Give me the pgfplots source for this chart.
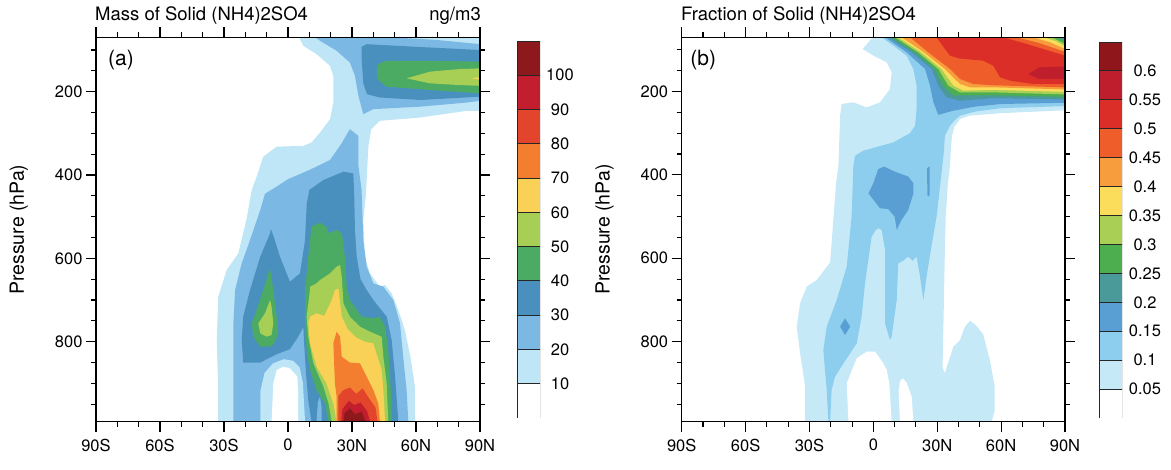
\documentclass[border=0pt]{standalone}
\usepackage{fontspec}
\setmainfont{TeX Gyre Heros}
\usepackage{pgfplots}
\pgfplotsset{compat=1.18}
% panel (a) colours
\definecolor{a1}{RGB}{190,230,247}
\definecolor{a2}{RGB}{124,184,228}
\definecolor{a3}{RGB}{74,144,191}
\definecolor{a4}{RGB}{75,171,99}
\definecolor{a5}{RGB}{167,207,85}
\definecolor{a6}{RGB}{249,209,87}
\definecolor{a7}{RGB}{244,126,48}
\definecolor{a8}{RGB}{227,69,44}
\definecolor{a9}{RGB}{195,30,45}
\definecolor{a10}{RGB}{142,25,28}
% panel (b) colours
\definecolor{b1}{RGB}{198,233,248}
\definecolor{b2}{RGB}{141,205,238}
\definecolor{b3}{RGB}{90,159,211}
\definecolor{b4}{RGB}{74,154,154}
\definecolor{b5}{RGB}{76,174,79}
\definecolor{b6}{RGB}{169,208,84}
\definecolor{b7}{RGB}{251,221,91}
\definecolor{b8}{RGB}{248,157,62}
\definecolor{b9}{RGB}{238,93,42}
\definecolor{b10}{RGB}{219,46,40}
\definecolor{b11}{RGB}{191,30,44}
\definecolor{b12}{RGB}{143,23,28}
\pgfplotsset{
  cax/.style={
    scale only axis, anchor=south west,
    xmin=-90, xmax=90, ymin=70, ymax=992, y dir=reverse,
    xtick={-90,-60,-30,0,30,60,90},
    xticklabels={90S,60S,30S,0,30N,60N,90N},
    minor xtick={-80,-70,-50,-40,-20,-10,10,20,40,50,70,80},
    ytick={200,400,600,800}, yticklabels={200,400,600,800},
    minor ytick={100,150,250,300,350,450,500,550,650,700,750,850,900,950},
    tick align=outside, major tick length=10pt, minor tick length=5pt,
    every tick/.style={black, line width=1.1pt},
    axis line style={line width=1.4pt},
    ticklabel style={font=\fontsize{16.5}{19}\selectfont},
    xticklabel style={yshift=-4pt},
    ylabel={Pressure (hPa)}, ylabel shift=20pt,
    ylabel style={font=\fontsize{19.5}{22}\selectfont},
    axis on top,
  },
  reg/.style={draw=none, fill=#1},
  cbar/.style={
    scale only axis, anchor=south west, width=23pt,
    xmin=0, xmax=1, ymin=0,
    ybar stacked, bar width=1, bar shift=0pt,
    axis line style={draw=none}, xtick=\empty,
    major tick length=0pt, yticklabel pos=right,
    ticklabel style={font=\fontsize{16.5}{19}\selectfont},
    every axis plot/.append style={draw=black!85, line width=0.9pt},
  },
}
\begin{document}
\begin{tikzpicture}
\path[use as bounding box] (0pt,0pt) rectangle (1171pt,470pt);
% ---------------- panel (a)
\begin{axis}[cax, at={(96pt,48.3pt)}, width=384pt, height=384.2pt]
\addplot[reg=a1] coordinates {(5.6,70) (90,70) (90,246) (83.75,246) (62,262) (43,270) (39,290) (37.7,330) (37.2,378) (36.5,450) (35.3,508) (36,596) (38.4,636) (43,668) (45.5,664) (48.6,684) (51.7,724) (54.8,772) (57.5,840) (59.5,908) (59.5,992) (-32.7,992) (-32.7,916) (-33.4,796) (-32.7,692) (-28.75,628) (-23.3,588) (-19.4,505) (-17,436) (-14.7,404) (-11.6,356) (-5.3,332) (7.2,330) (11,322) (15,298) (19.7,266) (21.25,226) (21.25,162) (19.7,138) (13.4,110) (7.2,90) (5.6,74)};
\addplot[reg=a2] coordinates {(13,70) (50,70) (70,76) (90,86) (90,222) (84,226) (62,236) (40,242) (35.3,254) (33,210) (31.4,162) (29,130) (22.8,102) (15,78)};
\addplot[reg=a2] coordinates {(29,290) (33,306) (33,378) (34.5,436) (35.3,556) (36.9,620) (40,660) (44.7,668) (49.4,700) (52.5,756) (54,836) (55.6,916) (56.4,992) (-25.6,992) (-25.6,836) (-25.6,756) (-24.8,676) (-21.7,612) (-17.8,556) (-13,484) (-10.8,445) (-6,430) (0,410) (10,388) (19.7,364) (25,325)};
\addplot[reg=a1] coordinates {(-13,992) (-13,920) (-11,875) (-7,852) (-2,842) (2.5,846) (5.5,862) (7,900) (8,992)};
\addplot[reg=white] coordinates {(-7.7,992) (-6.9,900) (-5.3,868) (-2.2,860) (0.9,864) (4.4,884) (4.8,932) (4.8,992)};
\addplot[reg=a3] coordinates {(34.5,92) (37,86) (58.75,92) (90,100) (90,212) (62,220) (43,214) (37,206) (35.3,180) (34.5,120)};
\addplot[reg=a3] coordinates {(26,392) (30.6,396) (31,440) (31.4,532) (32.2,596) (34,650) (36.9,676) (40,700) (46.25,740) (48.6,796) (50.2,884) (51.7,992) (11,992) (9.5,940) (8.5,880) (7.5,800) (7.2,765) (4.8,788) (0.9,818) (-5.3,830) (-13,850) (-21,850) (-21.7,796) (-21,740) (-17.8,676) (-13,596) (-8.4,540) (-8,530) (-6.9,545) (-3.75,596) (0.9,656) (5.6,636) (8,556) (8.75,470) (10,436) (16.6,412)};
\addplot[reg=a2] coordinates {(13.4,992) (14,945) (15,932) (15.8,960) (15.8,992)};
\addplot[reg=a4] coordinates {(42.3,134) (46,126) (66.5,126) (90,128) (90,204) (66.5,196) (46.25,188) (42.3,172) (41.6,150)};
\addplot[reg=a4] coordinates {(11,524) (15,514) (18,524) (19,540) (22.8,532) (25.2,540) (26.7,596) (27.5,668) (29,700) (34.5,740) (40,744) (43,740) (45.5,764) (47,820) (47.8,884) (48.6,956) (48.6,992) (19,992) (17.3,948) (13.4,916) (10.3,868) (8.75,820) (8,756) (8,676) (9.5,596)};
\addplot[reg=a4] coordinates {(-8.4,624) (-6.9,676) (-5.3,740) (-4.5,780) (-6.9,808) (-9.2,812) (-13,812) (-16.2,788) (-17,756) (-14.7,724) (-11.6,676)};
\addplot[reg=a5] coordinates {(55.6,168) (66.5,152) (80,146) (90,144) (90,186) (80,184) (66.5,180)};
\addplot[reg=a5] coordinates {(10.3,668) (13.4,660) (15,652) (19.7,636) (22.8,620) (24.4,616) (25.2,644) (26,708) (29,740) (33.75,764) (38,775) (43.9,788) (44.7,836) (46.25,900) (47,992) (20.5,992) (19,948) (16.6,908) (11.9,852) (9.5,788) (8.75,740) (10.3,676)};
\addplot[reg=a5] coordinates {(-8.4,700) (-7.7,716) (-6.9,756) (-7.7,784) (-10,788) (-13,780) (-13.9,756) (-10.8,732)};
\addplot[reg=a6] coordinates {(86,168) (90,165) (90,171)};
\addplot[reg=a6] coordinates {(10.3,740) (13.4,732) (17,738) (20.5,700) (22,676) (23.6,672) (25.2,740) (28,770) (32,790) (36,800) (40,804) (43.9,868) (44.7,916) (45.5,992) (22.8,992) (21.25,948) (18,900) (13.4,860) (10.3,804) (9.5,756)};
\addplot[reg=a7] coordinates {(22.8,776) (24.4,788) (25.2,836) (29,850) (33.75,852) (36.9,884) (40,916) (42.3,948) (43.1,992) (22.8,992) (22.8,932) (22,900) (21.25,804)};
\addplot[reg=a8] coordinates {(23.6,992) (23.6,930) (26,916) (29,910) (32,925) (35,912) (37.5,932) (41,958) (42,992)};
\addplot[reg=a9] coordinates {(25,992) (25.5,962) (28.5,942) (31,952) (34,946) (37,966) (38.5,992)};
\addplot[reg=a10] coordinates {(26,992) (26.5,972) (29,960) (31.5,974) (34.5,968) (36.5,992)};
\node[anchor=west, inner sep=0pt, font=\fontsize{21}{24}\selectfont] at (axis cs:-84.4,124) {(a)};
\end{axis}
\node[anchor=base west, inner sep=0pt, font=\fontsize{18.5}{21}\selectfont] at (95pt,449pt) {Mass of Solid (NH4)2SO4};
\node[anchor=base east, inner sep=0pt, font=\fontsize{18.5}{21}\selectfont] at (481pt,449pt) {ng/m3};
% colorbar (a)
\begin{axis}[cbar, at={(517pt,52pt)}, height=377pt, ymax=110,
  ytick={10,20,30,40,50,60,70,80,90,100},
  yticklabels={10,20,30,40,50,60,70,80,90,100},
  yticklabel style={anchor=center, xshift=20pt}]
\addplot[fill=white] coordinates {(0.5,10)};
\addplot[fill=a1] coordinates {(0.5,10)};
\addplot[fill=a2] coordinates {(0.5,10)};
\addplot[fill=a3] coordinates {(0.5,10)};
\addplot[fill=a4] coordinates {(0.5,10)};
\addplot[fill=a5] coordinates {(0.5,10)};
\addplot[fill=a6] coordinates {(0.5,10)};
\addplot[fill=a7] coordinates {(0.5,10)};
\addplot[fill=a8] coordinates {(0.5,10)};
\addplot[fill=a9] coordinates {(0.5,10)};
\addplot[fill=a10] coordinates {(0.5,10)};
\end{axis}
% ---------------- panel (b)
\begin{axis}[cax, at={(681.7pt,48.3pt)}, width=383.3pt, height=384.4pt]
\addplot[reg=b1] coordinates {(1,70) (90,70) (90,245) (60,252) (45,258) (40.7,266) (38,285) (37,305) (36.5,330) (36,378) (35,420) (34,500) (33.6,580) (33,740) (32.5,860) (33.5,876) (37.6,812) (40.7,796) (43,764) (45.4,750) (48,760) (51.6,782) (54.8,846) (57,908) (57,964) (55.6,992) (-32,992) (-32,908) (-34.4,828) (-36,764) (-34.4,708) (-31.3,668) (-26.6,652) (-20.3,610) (-18.8,508) (-17.5,420) (-16.4,378) (-15.6,258) (-14.9,230) (-9.4,226) (-3.1,238) (3.1,226) (7.8,194) (8.6,154) (6.3,130) (0,114) (-5,98) (-1,74)};
\addplot[reg=white] coordinates {(-11.7,992) (-12.5,900) (-9.4,860) (-7.8,840) (-3.1,824) (0.8,824) (4.7,852) (6.3,868) (7.5,900) (8.6,992)};
\addplot[reg=white] coordinates {(12.5,992) (11.9,920) (12.5,895) (13.8,888) (15.6,898) (18,932) (18.8,992)};
\addplot[reg=b2] coordinates {(3.9,70) (90,70) (90,235) (60,240) (48,248) (40.7,258) (38,270) (36,282) (33.6,306) (33.2,340) (31.5,420) (29.7,500) (27,580) (25,644) (23.5,700) (21.8,640) (20.3,596) (18.5,606) (16.4,596) (14,606) (11.7,612) (11,700) (8.6,788) (7.8,796) (5.5,756) (5.5,580) (3.9,532) (2.3,528) (1.2,532) (-0.8,548) (-3.9,660) (-5.5,740) (-7.8,804) (-14,852) (-18,884) (-19.6,916) (-20.3,992) (-21.1,992) (-21.9,916) (-23.5,820) (-21.9,764) (-17.2,700) (-12.5,620) (-10.2,500) (-9.4,378) (-8.6,354) (-4.7,342) (9.4,322) (17.2,300) (19.6,282) (20.3,242) (20.3,186) (18.8,146) (15.6,114) (9.4,90)};
\addplot[reg=b3] coordinates {(5.5,70) (90,70) (90,227) (60,230) (48,236) (37.6,246) (30.5,256) (28.2,226) (26.6,186) (24.3,146) (15.6,106)};
\addplot[reg=b3] coordinates {(2.3,386) (5,380) (10,392) (16.4,404) (18.8,420) (18.8,445) (16.4,484) (13,510) (11,532) (10,500) (7,482) (3.1,480) (-2.3,444) (0,420)};
\addplot[reg=b3] coordinates {(25.2,384) (26.4,380) (26.4,448) (25.8,452) (25.4,448)};
\addplot[reg=b3] coordinates {(-13.3,744) (-10.9,764) (-13.3,784) (-15.6,764)};
\addplot[reg=b4] coordinates {(7,70) (90,70) (90,219) (56.3,216) (40.7,222) (34.4,214) (30.5,186) (27.4,146) (18,106)};
\addplot[reg=b5] coordinates {(8.6,70) (86,70) (90,80) (90,213) (56.3,209) (37.6,209) (32.9,186) (29,146) (19.6,106)};
\addplot[reg=b6] coordinates {(10.2,70) (83.7,70) (90,86) (90,207) (56.3,202) (40.7,202) (35.2,186) (30.5,146) (21,106)};
\addplot[reg=b7] coordinates {(11.7,70) (80,70) (86,80) (90,92) (90,201) (56.3,196) (42.3,198) (37.6,186) (32,146) (22.4,106)};
\addplot[reg=b8] coordinates {(13.3,70) (75,70) (83,82) (90,98) (90,195) (56.3,190) (45.4,190) (40.7,182) (33.6,146) (23.8,106)};
\addplot[reg=b9] coordinates {(17.2,70) (67.3,70) (78,84) (90,105) (90,190) (56.3,185) (47,182) (40.7,170) (36,146) (25.8,106)};
\addplot[reg=b10] coordinates {(29.7,70) (61,70) (72,86) (90,114) (90,182) (75,182) (64.2,174) (59.5,166) (56.3,138) (51.6,126) (40.7,121) (36,114) (33.6,98)};
\addplot[reg=b11] coordinates {(72.8,158) (78,142) (90,140) (90,170) (78,170)};
\node[anchor=west, inner sep=0pt, font=\fontsize{21}{24}\selectfont] at (axis cs:-86,124) {(b)};
\end{axis}
\node[anchor=base west, inner sep=0pt, font=\fontsize{18.5}{21}\selectfont] at (681pt,449pt) {Fraction of Solid (NH4)2SO4};
% colorbar (b)
\begin{axis}[cbar, at={(1099pt,52pt)}, height=376pt, ymax=0.65,
  ytick={0.05,0.1,0.15,0.2,0.25,0.3,0.35,0.4,0.45,0.5,0.55,0.6},
  yticklabels={0.05,0.1,0.15,0.2,0.25,0.3,0.35,0.4,0.45,0.5,0.55,0.6},
  yticklabel style={anchor=center, xshift=23pt}]
\addplot[fill=white] coordinates {(0.5,0.05)};
\addplot[fill=b1] coordinates {(0.5,0.05)};
\addplot[fill=b2] coordinates {(0.5,0.05)};
\addplot[fill=b3] coordinates {(0.5,0.05)};
\addplot[fill=b4] coordinates {(0.5,0.05)};
\addplot[fill=b5] coordinates {(0.5,0.05)};
\addplot[fill=b6] coordinates {(0.5,0.05)};
\addplot[fill=b7] coordinates {(0.5,0.05)};
\addplot[fill=b8] coordinates {(0.5,0.05)};
\addplot[fill=b9] coordinates {(0.5,0.05)};
\addplot[fill=b10] coordinates {(0.5,0.05)};
\addplot[fill=b11] coordinates {(0.5,0.05)};
\addplot[fill=b12] coordinates {(0.5,0.05)};
\end{axis}
\end{tikzpicture}
\end{document}
